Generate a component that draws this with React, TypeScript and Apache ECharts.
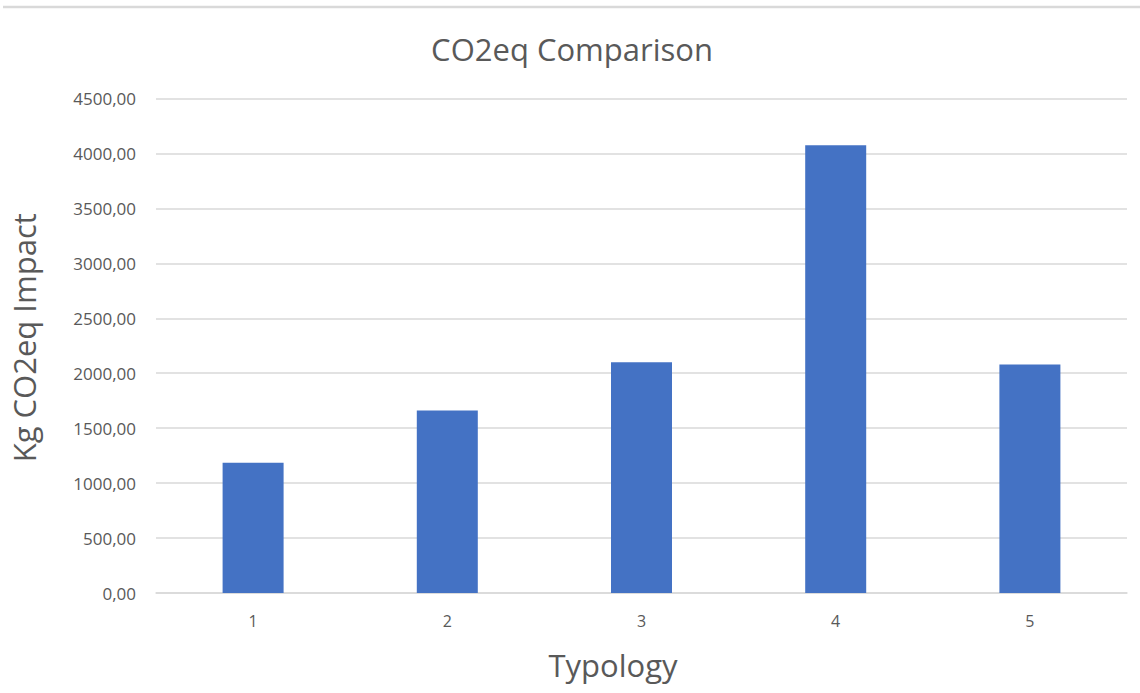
import React, { useEffect, useRef } from "react";
import * as echarts from "echarts";

const categories = ["1", "2", "3", "4", "5"];
const impactValues = [1185, 1660, 2100, 4075, 2080];
const yTickStep = 500;
const yMax = 4500;
const chartTitle = "CO2eq Comparison";
const yAxisTitle = "Kg CO2eq Impact";
const xAxisTitle = "Typology";

export default function App() {
  const ref = useRef<HTMLDivElement>(null);
  useEffect(() => {
    if (!ref.current) return;
    const chart = echarts.init(ref.current, null, { renderer: "svg" });
    const font = "'Open Sans', 'Noto Sans', sans-serif";
    chart.setOption({
      animation: false,
      backgroundColor: "#ffffff",
      title: {
        text: chartTitle,
        left: 567,
        textAlign: "center",
        top: 28,
        textStyle: { fontFamily: font, fontSize: 31, fontWeight: "normal", color: "#595959" },
      },
      grid: { left: 155, right: 13, top: 98.5, bottom: 100 },
      xAxis: {
        type: "category",
        data: categories,
        axisLine: { show: true, lineStyle: { color: "#d9d9d9", width: 1.5 } },
        axisTick: { show: false },
        axisLabel: { fontFamily: font, fontSize: 16, color: "#595959", margin: 20 },
        name: xAxisTitle,
        nameLocation: "middle",
        nameGap: 56,
        nameTextStyle: { fontFamily: font, fontSize: 31, color: "#595959", padding: [0, 57, 0, 0] },
      },
      yAxis: {
        type: "value",
        min: 0,
        max: yMax,
        interval: yTickStep,
        axisLine: { show: false },
        axisTick: { show: false },
        splitLine: { lineStyle: { color: "#d9d9d9", width: 1.5 } },
        axisLabel: {
          fontFamily: font,
          fontSize: 17,
          color: "#595959",
          margin: 20,
          formatter: (v: number) => v.toFixed(2).replace(".", ","),
        },
        name: yAxisTitle,
        nameLocation: "middle",
        nameGap: 117,
        nameTextStyle: { fontFamily: font, fontSize: 31, color: "#595959", padding: [0, 0, 0, 16] },
      },
      graphic: [
        {
          type: "line",
          shape: { x1: 3, y1: 7, x2: 1140, y2: 7 },
          style: { stroke: "#d9d9d9", lineWidth: 2.5 },
        },
      ],
      series: [
        {
          type: "bar",
          data: impactValues,
          barWidth: 61,
          itemStyle: { color: "#4472C4" },
        },
      ],
    });
    return () => chart.dispose();
  }, []);
  return (
    <div
      ref={ref}
      style={{ position: "fixed", left: 0, top: 0, width: 1140, height: 693, background: "#fff" }}
    />
  );
}
